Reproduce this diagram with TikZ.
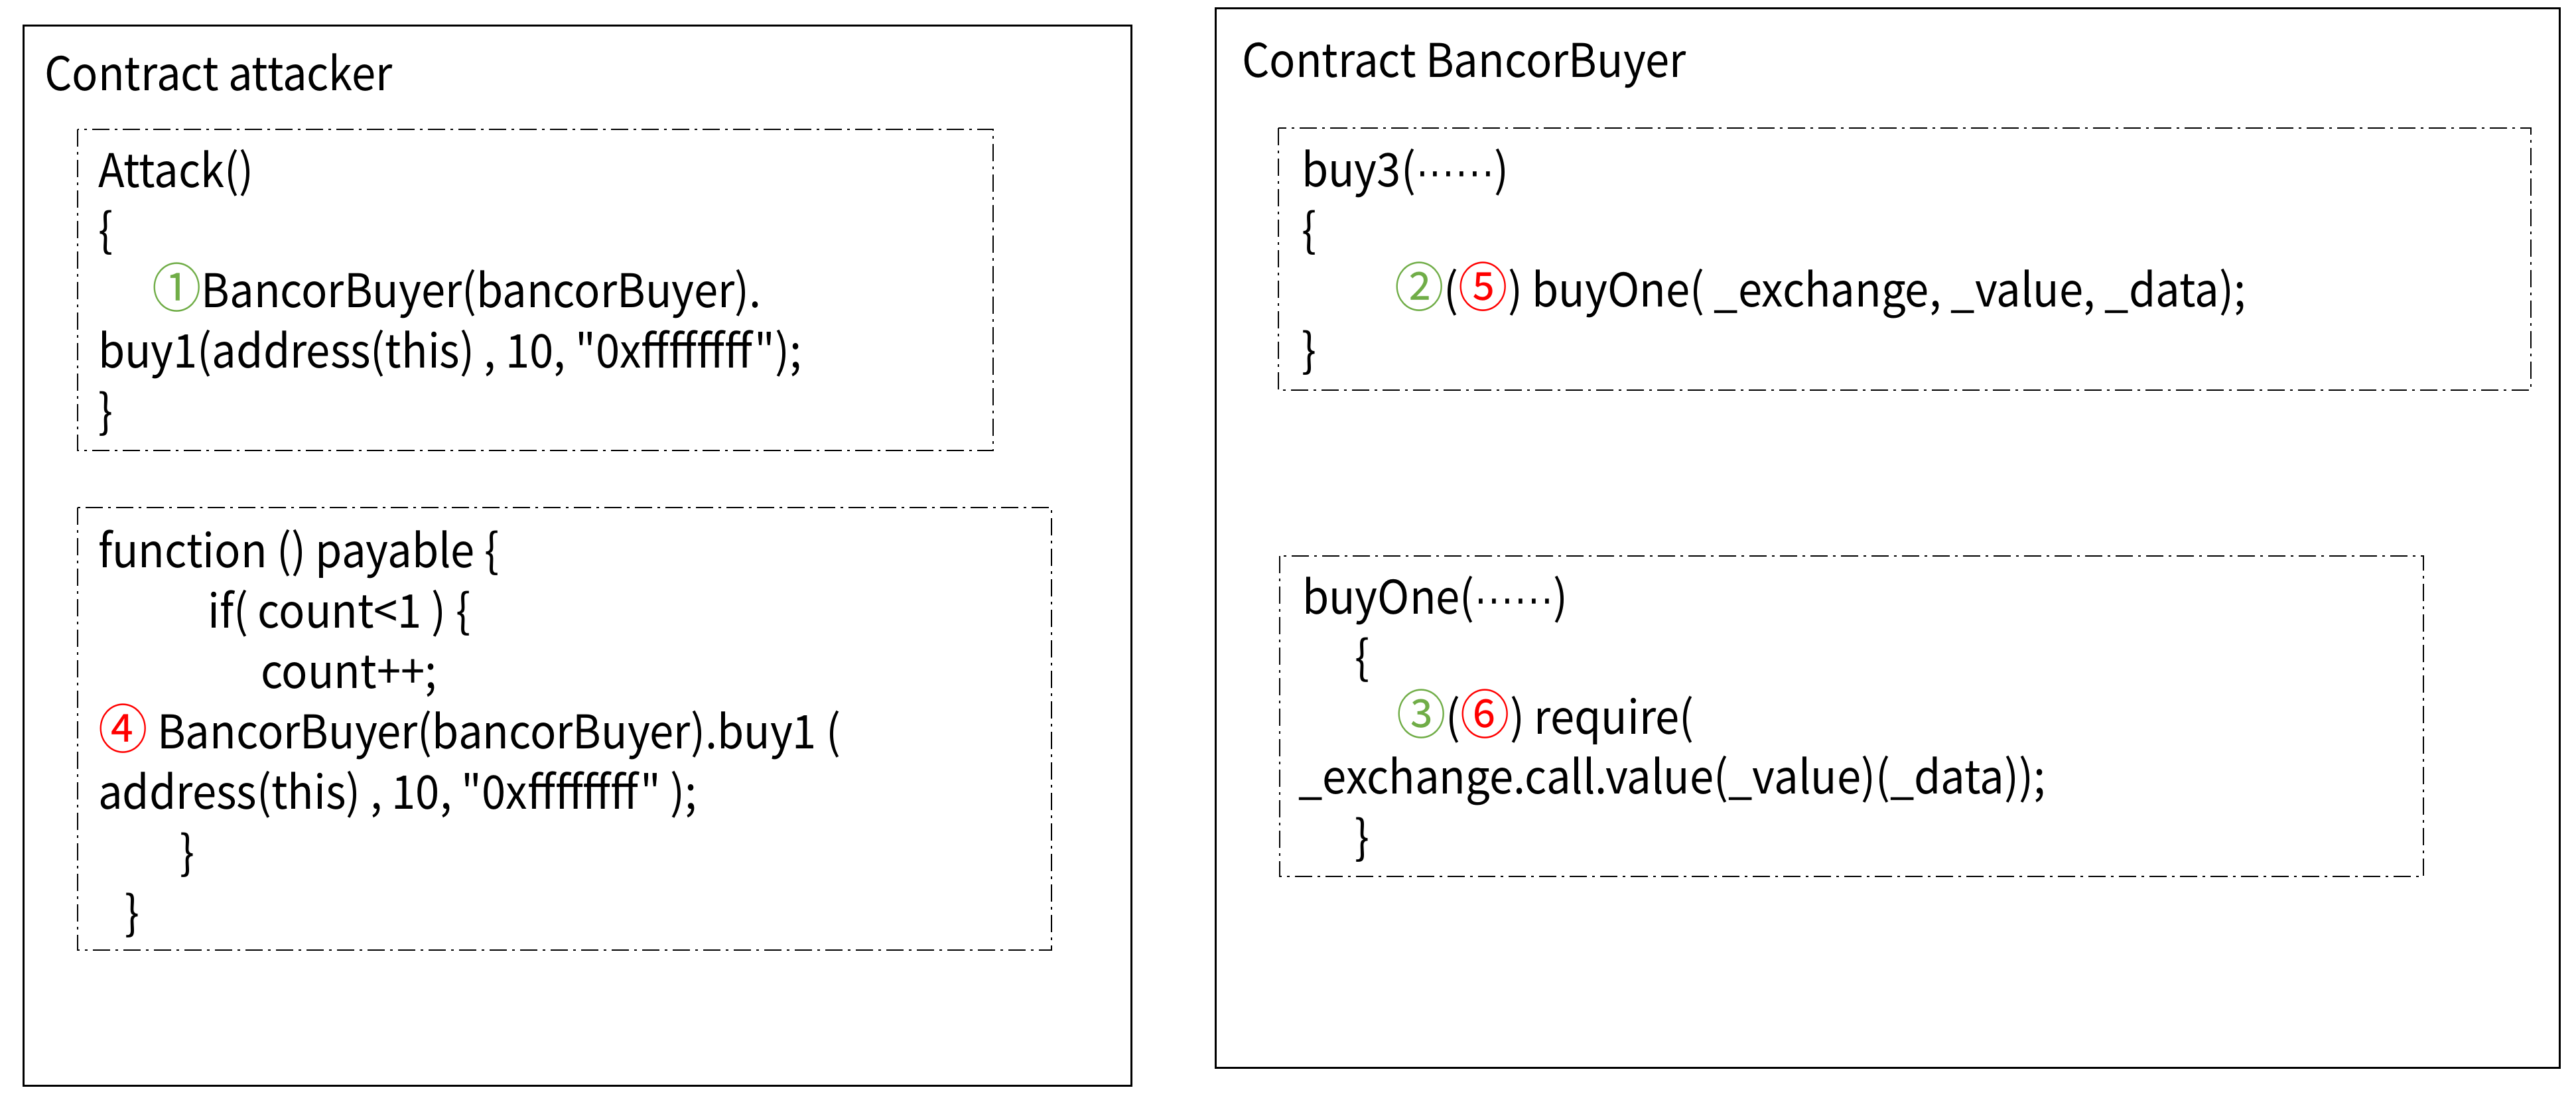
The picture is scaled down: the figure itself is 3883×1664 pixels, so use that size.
\documentclass[tikz,border=0pt]{standalone}
\usepackage{fontspec}
\setmainfont{Noto Sans CJK SC}[Ligatures=TeXOff, FakeStretch=0.93]
\newfontfamily\dotfont{Liberation Sans}[FakeStretch=0.85]
\definecolor{cgreen}{HTML}{70AD47}
\definecolor{cred}{HTML}{FF0000}
\newcommand{\sixdots}{{\dotfont ······}}
\newcommand{\cnum}[2]{{\fontsize{80}{90}\selectfont\color{#1}#2}}
\tikzset{
  codeline/.style={anchor=base west, inner sep=0pt, font=\fontsize{70}{90}\selectfont},
  outerbox/.style={draw=black, line width=3pt},
  innerbox/.style={draw=black, line width=2.2pt, dash pattern=on 26pt off 8pt on 4pt off 8pt},
}
\begin{document}
\begin{tikzpicture}[x=1pt,y=-1pt]
\useasboundingbox (0,0) rectangle (3883,1664);
\fill[white] (0,0) rectangle (3883,1664);
% outer boxes
\draw[outerbox] (35,39) rectangle (1705,1636);
\draw[outerbox] (1832,13) rectangle (3858,1609);
% inner boxes
\draw[innerbox] (117,195) rectangle (1497,679);
\draw[innerbox] (117,765) rectangle (1585,1432);
\draw[innerbox] (1927,193) rectangle (3815,588);
\draw[innerbox] (1929,838) rectangle (3653,1321);
% titles
\node[codeline] (tl) at (67,137) {Contract attacker};
\node[codeline] (tr) at (1872,117) {Contract BancorBuyer};
% box 1
\node[codeline] (a1) at (148,282) {Attack()};
\node[codeline] (a2) at (148,372) {\{};
\node[codeline] (a3) at (229,463) {\cnum{cgreen}{①}BancorBuyer(bancorBuyer).};
\node[codeline] (a4) at (148,554) {buy1(address(this) , 10, "0xffffffff");};
\node[codeline] (a5) at (148,645) {\}};
% box 2
\node[codeline] (b1) at (148,855) {function () payable \{};
\node[codeline] (b2) at (313,946) {if( count<1 ) \{};
\node[codeline] (b3) at (393,1037) {count++;};
\node[codeline] (b4) at (148,1128) {\cnum{cred}{④} BancorBuyer(bancorBuyer).buy1 (};
\node[codeline] (b5) at (148,1219) {address(this) , 10, "0xffffffff" );};
\node[codeline] (b6) at (271,1310) {\}};
\node[codeline] (b7) at (188,1401) {\}};
% box 3
\node[codeline] (c1) at (1962,281) {buy3(\sixdots)};
\node[codeline] (c2) at (1962,372) {\{};
\node[codeline] (c3) at (2102,462) {\cnum{cgreen}{②}(\cnum{cred}{⑤}) buyOne( \_exchange, \_value, \_data);};
\node[codeline] (c4) at (1962,553) {\}};
% box 4
\node[codeline] (d1) at (1963,925) {buyOne(\sixdots)};
\node[codeline] (d2) at (2042,1016) {\{};
\node[codeline] (d3) at (2105,1106) {\cnum{cgreen}{③}(\cnum{cred}{⑥}) require(};
\node[codeline] (d4) at (1957,1196) {\_exchange.call.value(\_value)(\_data));};
\node[codeline] (d5) at (2042,1287) {\}};
\end{tikzpicture}
\end{document}
